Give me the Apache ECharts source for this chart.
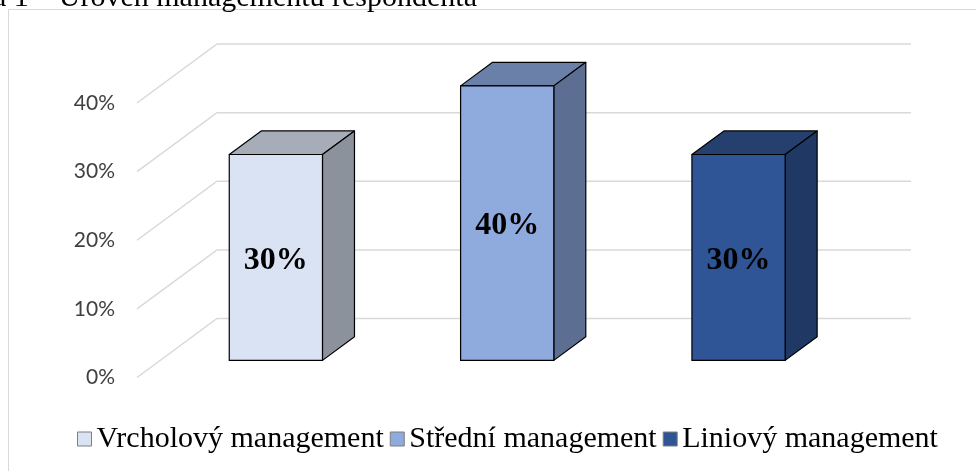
<!DOCTYPE html>
<html>
<head>
<meta charset="utf-8">
<script src="https://cdn.jsdelivr.net/npm/echarts@6/dist/echarts.min.js"></script>
<style>
    html, body { margin: 0; padding: 0; background: #fff; }
    #chart { width: 976px; height: 471px; }
</style>
</head>
<body>
<div id="chart"></div>
<script>
var categories = ['Vrcholový management', 'Střední management', 'Liniový management'];
var values = [30, 40, 30];
var yTicks = [0, 10, 20, 30, 40];

var frontColors = ['#dae3f3', '#8faadc', '#2f5597'];
var topColors = ['#a6adb8', '#6b80a8', '#25406f'];
var sideColors = ['#8b929c', '#5c6e91', '#1f3864'];

// 3D look: floor diagonal vector and bar depth (fractions of it)
var DX = 80, DY = -59;
var D1 = 0.29, D2 = 0.69;
var BAR_W = 0.403;

function wallRenderer(params, api) {
    var cs = params.coordSys;
    var y = api.coord([0, api.value(1)])[1];
    var x0 = cs.x, x1 = cs.x + cs.width;
    return {
        type: 'polyline',
        shape: { points: [[x0, y], [x0 + DX, y + DY], [x1 + DX, y + DY]] },
        style: { stroke: '#d9d9d9', lineWidth: 1.5, fill: null },
        silent: true
    };
}

function barRenderer(k) {
    return function (params, api) {
        var base = api.coord([api.value(0), 0]);
        var top = api.coord([api.value(0), api.value(1)]);
        var w = api.size([1, 0])[0] * BAR_W;
        var xl = base[0] - w / 2 + D1 * DX;
        var xr = xl + w;
        var yb = base[1] + D1 * DY;
        var yt = top[1] + D1 * DY;
        var ox = (D2 - D1) * DX, oy = (D2 - D1) * DY;
        var edge = { stroke: '#000', lineWidth: 1.2, lineJoin: 'round' };
        return {
            type: 'group',
            children: [{
                type: 'polygon',
                shape: { points: [[xl, yt], [xr, yt], [xr + ox, yt + oy], [xl + ox, yt + oy]] },
                style: Object.assign({ fill: topColors[k] }, edge)
            }, {
                type: 'polygon',
                shape: { points: [[xr, yt], [xr + ox, yt + oy], [xr + ox, yb + oy], [xr, yb]] },
                style: Object.assign({ fill: sideColors[k] }, edge)
            }, {
                type: 'rect',
                shape: { x: xl, y: yt, width: w, height: yb - yt },
                style: Object.assign({ fill: frontColors[k] }, edge)
            }, {
                type: 'text',
                style: {
                    text: api.value(1) + '%',
                    x: (xl + xr) / 2,
                    y: (yt + yb) / 2 + 3,
                    align: 'center', verticalAlign: 'middle',
                    textAlign: 'center', textVerticalAlign: 'middle',
                    font: 'bold 32px "Liberation Serif"',
                    fill: '#000'
                }
            }]
        };
    };
}

var series = [{
    name: 'walls',
    type: 'custom',
    renderItem: wallRenderer,
    data: yTicks.map(function (v) { return [0, v]; }),
    silent: true,
    z: 1
}];
for (var k = 0; k < categories.length; k++) {
    series.push({
        name: categories[k],
        type: 'custom',
        renderItem: barRenderer(k),
        itemStyle: { color: frontColors[k] },
        data: [[k, values[k]]],
        z: 2
    });
}

var chart = echarts.init(document.getElementById('chart'));
chart.setOption({
    backgroundColor: '#fff',
    animation: false,
    graphic: [{
        type: 'rect',
        shape: { x: 8.5, y: 9.5, width: 1000, height: 1000 },
        style: { fill: null, stroke: '#d9d9d9', lineWidth: 1 },
        silent: true
    }, {
        type: 'text',
        style: {
            text: 'a 1 – Úroveň managementu respondenta',
            x: 477, y: 13,
            align: 'right', verticalAlign: 'bottom',
            textAlign: 'right', textVerticalAlign: 'bottom',
            font: '30px "Liberation Serif"',
            fill: '#000'
        },
        silent: true
    }],
    grid: {
        left: 137,
        right: 145,
        top: 103,
        bottom: 93.5
    },
    legend: {
        data: categories,
        left: 72,
        top: 419,
        icon: 'rect',
        itemWidth: 14,
        itemHeight: 14,
        itemGap: 6,
        itemStyle: { borderColor: '#7f7f7f', borderWidth: 1 },
        textStyle: {
            fontFamily: 'Liberation Serif',
            fontSize: 30,
            color: '#000'
        }
    },
    xAxis: {
        type: 'category',
        data: categories,
        axisLine: { show: false },
        axisTick: { show: false },
        axisLabel: { show: false },
        splitLine: { show: false }
    },
    yAxis: {
        type: 'value',
        min: 0,
        max: 40,
        interval: 10,
        axisLine: { show: false },
        axisTick: { show: false },
        splitLine: { show: false },
        axisLabel: {
            formatter: '{value}%',
            margin: 22,
            fontFamily: 'Lato',
            fontSize: 21,
            color: '#404040',
            padding: [6, 0, 0, 0]
        }
    },
    series: series
});
</script>
</body>
</html>
